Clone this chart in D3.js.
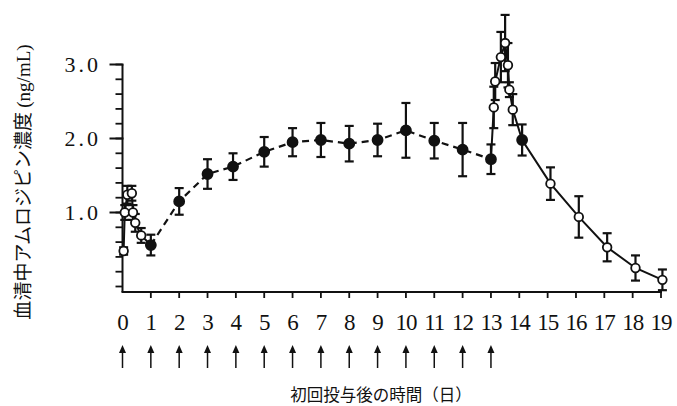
<!DOCTYPE html>
<html>
<head>
<meta charset="utf-8">
<script src="https://cdn.jsdelivr.net/npm/d3@7"></script>
<style>
  body { margin: 0; background: #fff; }
  svg { display: block; }
  .num { font-family: "Liberation Serif", "DejaVu Serif", serif; fill: #111; }
  .jp { font-family: "Noto Sans CJK JP", sans-serif; fill: #111; }
</style>
</head>
<body>
<div id="chart"></div>
<script>
// trough levels (closed circles) – days after first dose
const troughDays = [1, 2, 3, 3.9, 5, 6, 7, 8, 9, 10, 11, 12, 13, 14.1];
const troughMean = [0.56, 1.15, 1.52, 1.62, 1.82, 1.95, 1.98, 1.93, 1.98, 2.11, 1.97, 1.85, 1.72, 1.98];
const troughSD   = [0.14, 0.18, 0.2, 0.18, 0.2, 0.19, 0.23, 0.24, 0.22, 0.37, 0.24, 0.36, 0.2, 0.21];

// first dose profile (open circles)
const firstTimes = [0.04, 0.08, 0.17, 0.33, 0.37, 0.45, 0.66];
const firstMean  = [0.48, 1.0, 1.24, 1.26, 1.0, 0.86, 0.69];
const firstSD    = [0.05, 0.1, 0.12, 0.1, 0.1, 0.12, 0.1];

// last dose profile (open circles)
const lastTimes = [13.1, 13.15, 13.35, 13.5, 13.6, 13.65, 13.77, 15.1, 16.1, 17.1, 18.1, 19.05];
const lastMean  = [2.42, 2.77, 3.1, 3.29, 2.99, 2.66, 2.39, 1.39, 0.94, 0.53, 0.25, 0.09];
const lastSD    = [0.28, 0.25, 0.34, 0.38, 0.3, 0.1, 0.21, 0.22, 0.28, 0.19, 0.17, 0.14];

const xTicks = d3.range(0, 20);
const doseDays = d3.range(0, 14);
const yMajor = [1.0, 2.0, 3.0];
const yMinor = d3.range(0, 3.01, 0.2);

const width = 677, height = 406;
const x = d3.scaleLinear().domain([0, 19]).range([122.5, 661]);
const y = d3.scaleLinear().domain([0, 3]).range([286.5, 64.5]);
const axisY = 292;

const svg = d3.select("#chart").append("svg")
    .attr("width", width).attr("height", height);

const ink = "#111";

// axes
svg.append("line")
    .attr("x1", x(0)).attr("x2", x(0))
    .attr("y1", y(3)).attr("y2", axisY)
    .attr("stroke", ink).attr("stroke-width", 2);
svg.append("line")
    .attr("x1", x(0) - 1).attr("x2", x(19) + 1)
    .attr("y1", axisY).attr("y2", axisY)
    .attr("stroke", ink).attr("stroke-width", 2);

svg.selectAll(".ymin").data(yMinor).enter().append("line")
    .attr("x1", x(0) - 7).attr("x2", x(0))
    .attr("y1", d => y(d)).attr("y2", d => y(d))
    .attr("stroke", ink).attr("stroke-width", 1.8);
svg.selectAll(".ymaj").data(yMajor).enter().append("line")
    .attr("x1", x(0) - 13).attr("x2", x(0) + 1)
    .attr("y1", d => y(d)).attr("y2", d => y(d))
    .attr("stroke", ink).attr("stroke-width", 2);
svg.selectAll(".ylab").data(yMajor).enter().append("text")
    .attr("class", "num")
    .attr("x", 101).attr("y", d => y(d) + 7.5)
    .attr("text-anchor", "end")
    .attr("font-size", 22)
    .attr("letter-spacing", 3)
    .text(d => d.toFixed(1));

svg.selectAll(".xt").data(xTicks.slice(1)).enter().append("line")
    .attr("x1", d => x(d)).attr("x2", d => x(d))
    .attr("y1", axisY).attr("y2", axisY + 6)
    .attr("stroke", ink).attr("stroke-width", 1.8);
svg.selectAll(".xlab").data(xTicks).enter().append("text")
    .attr("class", "num")
    .attr("x", d => x(d)).attr("y", 330)
    .attr("text-anchor", "middle")
    .attr("font-size", 23)
    .attr("letter-spacing", -1)
    .text(d => d);

// dosing arrows
const arrows = svg.selectAll(".arrow").data(doseDays).enter().append("g")
    .attr("transform", d => `translate(${x(d)},0)`);
arrows.append("line")
    .attr("y1", 350).attr("y2", 368)
    .attr("stroke", ink).attr("stroke-width", 1.5);
arrows.append("path")
    .attr("d", "M0,345 L-3.5,353 L3.5,353 Z")
    .attr("fill", ink);

// titles
svg.append("text")
    .attr("class", "jp")
    .attr("x", 381).attr("y", 401)
    .attr("text-anchor", "middle")
    .attr("font-size", 16.5)
    .text("初回投与後の時間（日）");

const yt = svg.append("text")
    .attr("transform", "translate(30,182) rotate(-90)")
    .attr("text-anchor", "middle")
    .attr("font-size", 19);
yt.append("tspan").attr("class", "jp").text("血清中アムロジピン濃度 ");
yt.append("tspan").attr("class", "num").attr("font-size", 19).text("(ng/mL)");

// build point lists
const troughPts = troughDays.map((d, i) => ({ t: d, v: troughMean[i], sd: troughSD[i], filled: true }));
const firstPts = firstTimes.map((d, i) => ({ t: d, v: firstMean[i], sd: firstSD[i], filled: false }));
const lastPts = lastTimes.map((d, i) => ({ t: d, v: lastMean[i], sd: lastSD[i], filled: false }));

const line = d3.line().x(d => x(d.t)).y(d => y(d.v));

// dashed trough line, days 1–13
svg.append("path")
    .attr("d", line(troughPts.filter(p => p.t <= 13)))
    .attr("fill", "none").attr("stroke", ink)
    .attr("stroke-width", 2.2).attr("stroke-dasharray", "7,5");

// solid first-dose line (into day-1 trough)
svg.append("path")
    .attr("d", line(firstPts.concat(troughPts.filter(p => p.t === 1))))
    .attr("fill", "none").attr("stroke", ink).attr("stroke-width", 2);

// solid last-dose line
const tail = troughPts.filter(p => p.t >= 13).concat(lastPts).sort((a, b) => a.t - b.t);
svg.append("path")
    .attr("d", line(tail))
    .attr("fill", "none").attr("stroke", ink).attr("stroke-width", 2);

const all = firstPts.concat(troughPts, lastPts);

// error bars
const eb = svg.selectAll(".eb").data(all).enter().append("g");
eb.append("line")
    .attr("x1", d => x(d.t)).attr("x2", d => x(d.t))
    .attr("y1", d => y(d.v + d.sd)).attr("y2", d => y(d.v - d.sd))
    .attr("stroke", ink).attr("stroke-width", 2.2);
eb.selectAll(".cap").data(d => [d.v + d.sd, d.v - d.sd].map(v => ({ t: d.t, v }))).enter()
    .append("line")
    .attr("x1", d => x(d.t) - 4.5).attr("x2", d => x(d.t) + 4.5)
    .attr("y1", d => y(d.v)).attr("y2", d => y(d.v))
    .attr("stroke", ink).attr("stroke-width", 2.2);

// markers
svg.selectAll(".pt").data(all).enter().append("circle")
    .attr("cx", d => x(d.t)).attr("cy", d => y(d.v))
    .attr("r", d => d.filled ? 5 : 4.3)
    .attr("fill", d => d.filled ? ink : "#fff")
    .attr("stroke", ink).attr("stroke-width", 1.8);
</script>
</body>
</html>
